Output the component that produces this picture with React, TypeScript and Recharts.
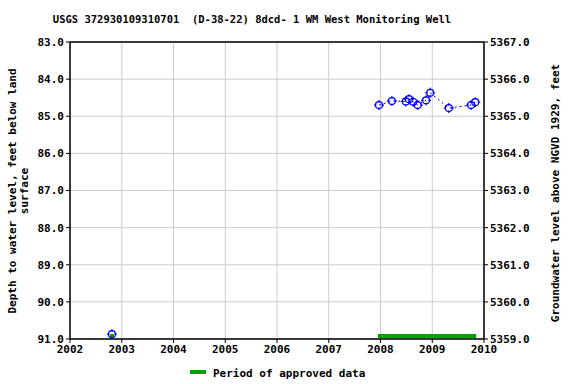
import React from 'react';
import { ComposedChart, Line, XAxis, YAxis, CartesianGrid, ReferenceLine } from 'recharts';

const yearTicks = [2002, 2003, 2004, 2005, 2006, 2007, 2008, 2009, 2010];
const depthTicks = [83, 84, 85, 86, 87, 88, 89, 90, 91];
const elevTicks = [5359, 5360, 5361, 5362, 5363, 5364, 5365, 5366, 5367];

const earlyDates = [2002.81];
const earlyDepths = [90.87];

const recentDates = [2007.97, 2008.22, 2008.49, 2008.55, 2008.63, 2008.72, 2008.88, 2008.96, 2009.32, 2009.75, 2009.83];
const recentDepths = [84.7, 84.59, 84.6, 84.54, 84.61, 84.7, 84.57, 84.37, 84.78, 84.7, 84.62];

const approvedPeriods = [
  [2002.77, 2002.85],
  [2007.95, 2009.85],
];
const approvedDepth = 90.92;

const earlyData = earlyDates.map((x, i) => ({ x, y: earlyDepths[i] }));
const recentData = recentDates.map((x, i) => ({ x, y: recentDepths[i] }));
const rightAxisData = [{ x: 2002, y: 5359 }, { x: 2010, y: 5367 }];

const BLUE = '#0000ff';
const GREEN = '#00a000';
const FONT = '"DejaVu Sans Mono", monospace';

const Marker = (props: any) => {
  const { cx, cy } = props;
  if (cx == null || cy == null) return null;
  const r = 3.5;
  return (
    <g>
      <circle cx={cx} cy={cy} r={r} fill="none" stroke={BLUE} strokeWidth={1.2} />
      <line x1={cx} y1={cy - r - 1.5} x2={cx} y2={cy - r + 1} stroke={BLUE} strokeWidth={1.2} />
      <line x1={cx} y1={cy + r - 1} x2={cx} y2={cy + r + 1.5} stroke={BLUE} strokeWidth={1.2} />
      <line x1={cx - r - 1.5} y1={cy} x2={cx - r + 1} y2={cy} stroke={BLUE} strokeWidth={1.2} />
      <line x1={cx + r - 1} y1={cy} x2={cx + r + 1.5} y2={cy} stroke={BLUE} strokeWidth={1.2} />
    </g>
  );
};

const tickStyle = { fontFamily: FONT, fontSize: 11, fontWeight: 'bold', fill: '#000' };

export default function App() {
  return (
    <div style={{ position: 'absolute', left: 0, top: 0, width: 576, height: 384, background: '#fff' }}>
      <ComposedChart width={576} height={384} margin={{ top: 42, right: 0, bottom: 25, left: 0 }}>
        <CartesianGrid stroke="#cccccc" strokeWidth={1} yAxisId="left" />
        <XAxis
          dataKey="x"
          type="number"
          domain={[2002, 2010]}
          ticks={yearTicks}
          allowDataOverflow
          height={20}
          tick={tickStyle}
          tickLine={{ stroke: '#000' }}
          axisLine={{ stroke: '#000', strokeWidth: 1.5 }}
          tickSize={4}
        />
        <YAxis
          yAxisId="left"
          dataKey="y"
          type="number"
          domain={[83, 91]}
          reversed
          ticks={depthTicks}
          width={70}
          tick={tickStyle}
          tickFormatter={(v: number) => v.toFixed(1)}
          tickLine={{ stroke: '#000' }}
          axisLine={{ stroke: '#000', strokeWidth: 1.5 }}
          tickSize={4}
          allowDataOverflow
        />
        <YAxis
          yAxisId="right"
          orientation="right"
          dataKey="y"
          type="number"
          domain={[5359, 5367]}
          ticks={elevTicks}
          width={92}
          tick={{ ...tickStyle, textAnchor: 'start' }}
          tickFormatter={(v: number) => v.toFixed(1)}
          tickLine={{ stroke: '#000' }}
          axisLine={{ stroke: '#000', strokeWidth: 1.5 }}
          tickSize={4}
          allowDataOverflow
        />
        <ReferenceLine yAxisId="left" y={83} stroke="#000" strokeWidth={1.5} />
        <Line
          yAxisId="right"
          data={rightAxisData}
          dataKey="y"
          stroke="none"
          dot={false}
          activeDot={false}
          isAnimationActive={false}
        />
        <Line
          yAxisId="left"
          data={earlyData}
          dataKey="y"
          stroke={BLUE}
          strokeDasharray="2 3"
          dot={<Marker />}
          isAnimationActive={false}
        />
        <Line
          yAxisId="left"
          data={recentData}
          dataKey="y"
          stroke={BLUE}
          strokeWidth={1}
          strokeDasharray="2 3"
          dot={<Marker />}
          isAnimationActive={false}
        />
        {approvedPeriods.map((p, i) => (
          <Line
            key={'ap' + i}
            yAxisId="left"
            data={[{ x: p[0], y: approvedDepth }, { x: p[1], y: approvedDepth }]}
            dataKey="y"
            stroke={GREEN}
            strokeWidth={4}
            dot={false}
            isAnimationActive={false}
          />
        ))}
      </ComposedChart>
      <svg width={576} height={384} style={{ position: 'absolute', left: 0, top: 0, pointerEvents: 'none' }}>
        <g fontFamily={FONT} fontWeight="bold" fontSize={11} fill="#000">
          <text x={252} y={23} textAnchor="middle" fontSize={10.5} style={{ whiteSpace: 'pre' }} xmlSpace="preserve">
            {'USGS 372930109310701  (D-38-22) 8dcd- 1 WM West Monitoring Well'}
          </text>
          <text transform="translate(16,191) rotate(-90)" textAnchor="middle">
            Depth to water level, feet below land
          </text>
          <text transform="translate(28,191) rotate(-90)" textAnchor="middle">
            surface
          </text>
          <text transform="translate(559,193) rotate(-90)" textAnchor="middle">
            Groundwater level above NGVD 1929, feet
          </text>
          <line x1={190} y1={372} x2={206} y2={372} stroke={GREEN} strokeWidth={4} />
          <text x={213} y={377}>Period of approved data</text>
        </g>
      </svg>
    </div>
  );
}
